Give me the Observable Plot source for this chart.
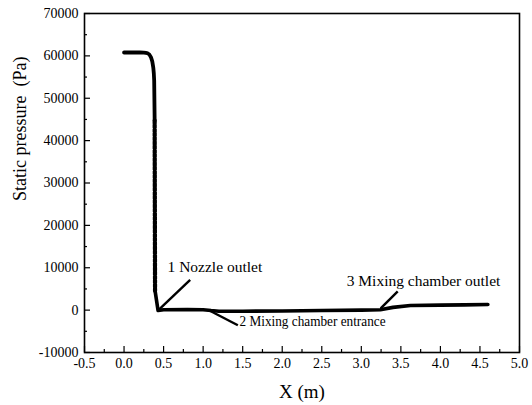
<!DOCTYPE html>
<html>
<head>
<meta charset="utf-8">
<script src="https://cdn.jsdelivr.net/npm/d3@7"></script>
<script src="https://cdn.jsdelivr.net/npm/@observablehq/plot@0.6"></script>
<style>
  body { margin: 0; background: #fff; }
</style>
</head>
<body>
<div id="chart"></div>
<script>
// Static pressure along the ejector axis, X in metres, pressure in Pa.
// Converging nozzle part (solid line).
const nozzleX = [0.00, 0.10, 0.20, 0.25, 0.298, 0.34, 0.369, 0.381, 0.387];
const nozzleP = [60800, 60800, 60800, 60780, 60630, 59690, 57330, 54190, 44750];
// Sharp expansion at the throat (sparse samples, drawn dotted).
const expansionX = [0.387, 0.392];
const expansionP = [44750, 4600];
// Nozzle outlet through the mixing chamber and diffuser (solid line).
const mixingX = [0.392, 0.43, 0.50, 0.80, 1.00, 1.10, 1.20, 1.50, 2.00, 2.50, 3.00, 3.24, 3.40, 3.62, 4.00, 4.30, 4.60];
const mixingP = [4600, -100, 100, 150, 100, -100, -250, -250, -200, -100, 0, 80, 650, 1090, 1180, 1250, 1320];

// Axis ticks.
const xMajor = [-0.5, 0, 0.5, 1, 1.5, 2, 2.5, 3, 3.5, 4, 4.5, 5];
const xMinor = [-0.25, 0.25, 0.75, 1.25, 1.75, 2.25, 2.75, 3.25, 3.75, 4.25, 4.75];
const yMajor = [-10000, 0, 10000, 20000, 30000, 40000, 50000, 60000, 70000];
const yMinor = [-5000, 5000, 15000, 25000, 35000, 45000, 55000, 65000];

// Labelled locations with their leader lines (data units).
const noteText = ["1 Nozzle outlet", "2 Mixing chamber entrance", "3 Mixing chamber outlet"];
const noteX = [0.55, 1.46, 2.815];
const noteP = [8900, -3850, 5800];
const leaderX1 = [0.431, 1.073, 3.245];
const leaderP1 = [-70, -40, 420];
const leaderX2 = [0.836, 1.439, 3.46];
const leaderP2 = [7160, -3580, 4430];

const W = 532, H = 405;
const mL = 84, mR = 13, mT = 13, mB = 53;
const innerW = W - mL - mR, innerH = H - mT - mB;
const serif = "Liberation Serif";

const pts = (xs, ps) => xs.map((x, i) => ({x, p: ps[i]}));
const notes = noteText.map((t, i) => ({
  t, x: noteX[i], p: noteP[i],
  x1: leaderX1[i], p1: leaderP1[i], x2: leaderX2[i], p2: leaderP2[i]
}));

const chart = Plot.plot({
  width: W,
  height: H,
  marginLeft: mL,
  marginRight: mR,
  marginTop: mT,
  marginBottom: mB,
  style: `font-family: '${serif}'; font-size: 14px; color: #000; background: #fff; overflow: visible;`,
  x: {domain: [-0.5, 5]},
  y: {domain: [-10000, 70000]},
  marks: [
    Plot.axisX(xMajor, {tickSize: 0, tickPadding: 6, tickFormat: d => d.toFixed(1), label: null, fontSize: 14, fontFamily: serif}),
    Plot.axisY(yMajor, {tickSize: 0, tickPadding: 6, tickFormat: d => String(d), label: null, fontSize: 14, fontFamily: serif}),
    // inward ticks
    Plot.ruleX(xMajor, {x: d => d, insetTop: innerH - 6, stroke: "#000", strokeWidth: 1.2}),
    Plot.ruleX(xMinor, {x: d => d, insetTop: innerH - 3, stroke: "#000", strokeWidth: 1.2}),
    Plot.ruleY(yMajor, {y: d => d, insetRight: innerW - 6, stroke: "#000", strokeWidth: 1.2}),
    Plot.ruleY(yMinor, {y: d => d, insetRight: innerW - 3, stroke: "#000", strokeWidth: 1.2}),
    Plot.frame({stroke: "#000", strokeWidth: 1.6}),
    // pressure profile
    Plot.line(pts(nozzleX, nozzleP), {x: "x", y: "p", stroke: "#000", strokeWidth: 3.8, curve: "monotone-x", strokeLinejoin: "round"}),
    Plot.line(pts(expansionX, expansionP), {x: "x", y: "p", stroke: "#000", strokeWidth: 4.2, strokeDasharray: "3,1.2"}),
    Plot.line(pts(mixingX, mixingP), {x: "x", y: "p", stroke: "#000", strokeWidth: 3.6, strokeLinejoin: "round"}),
    // annotations
    Plot.link(notes, {x1: "x1", y1: "p1", x2: "x2", y2: "p2", stroke: "#000", strokeWidth: 2.4}),
    Plot.text(notes, {x: "x", y: "p", text: "t", textAnchor: "start", lineAnchor: "bottom", fontSize: 15.5, fontFamily: serif, fill: "#000"}),
    // axis titles
    Plot.text(["X (m)"], {frameAnchor: "bottom", dy: 45, lineAnchor: "bottom", fontSize: 19, fontFamily: serif, fill: "#000"}),
    Plot.text(["Static pressure  (Pa)"], {frameAnchor: "left", dx: -64, dy: 18, rotate: -90, fontSize: 18, fontFamily: serif, fill: "#000"})
  ]
});

// The entrance label is set in a narrower width than the other two.
for (const el of chart.querySelectorAll("text")) {
  if (el.textContent === noteText[1]) {
    el.setAttribute("textLength", 146);
    el.setAttribute("lengthAdjust", "spacingAndGlyphs");
  }
}

document.getElementById("chart").appendChild(chart);
</script>
</body>
</html>
